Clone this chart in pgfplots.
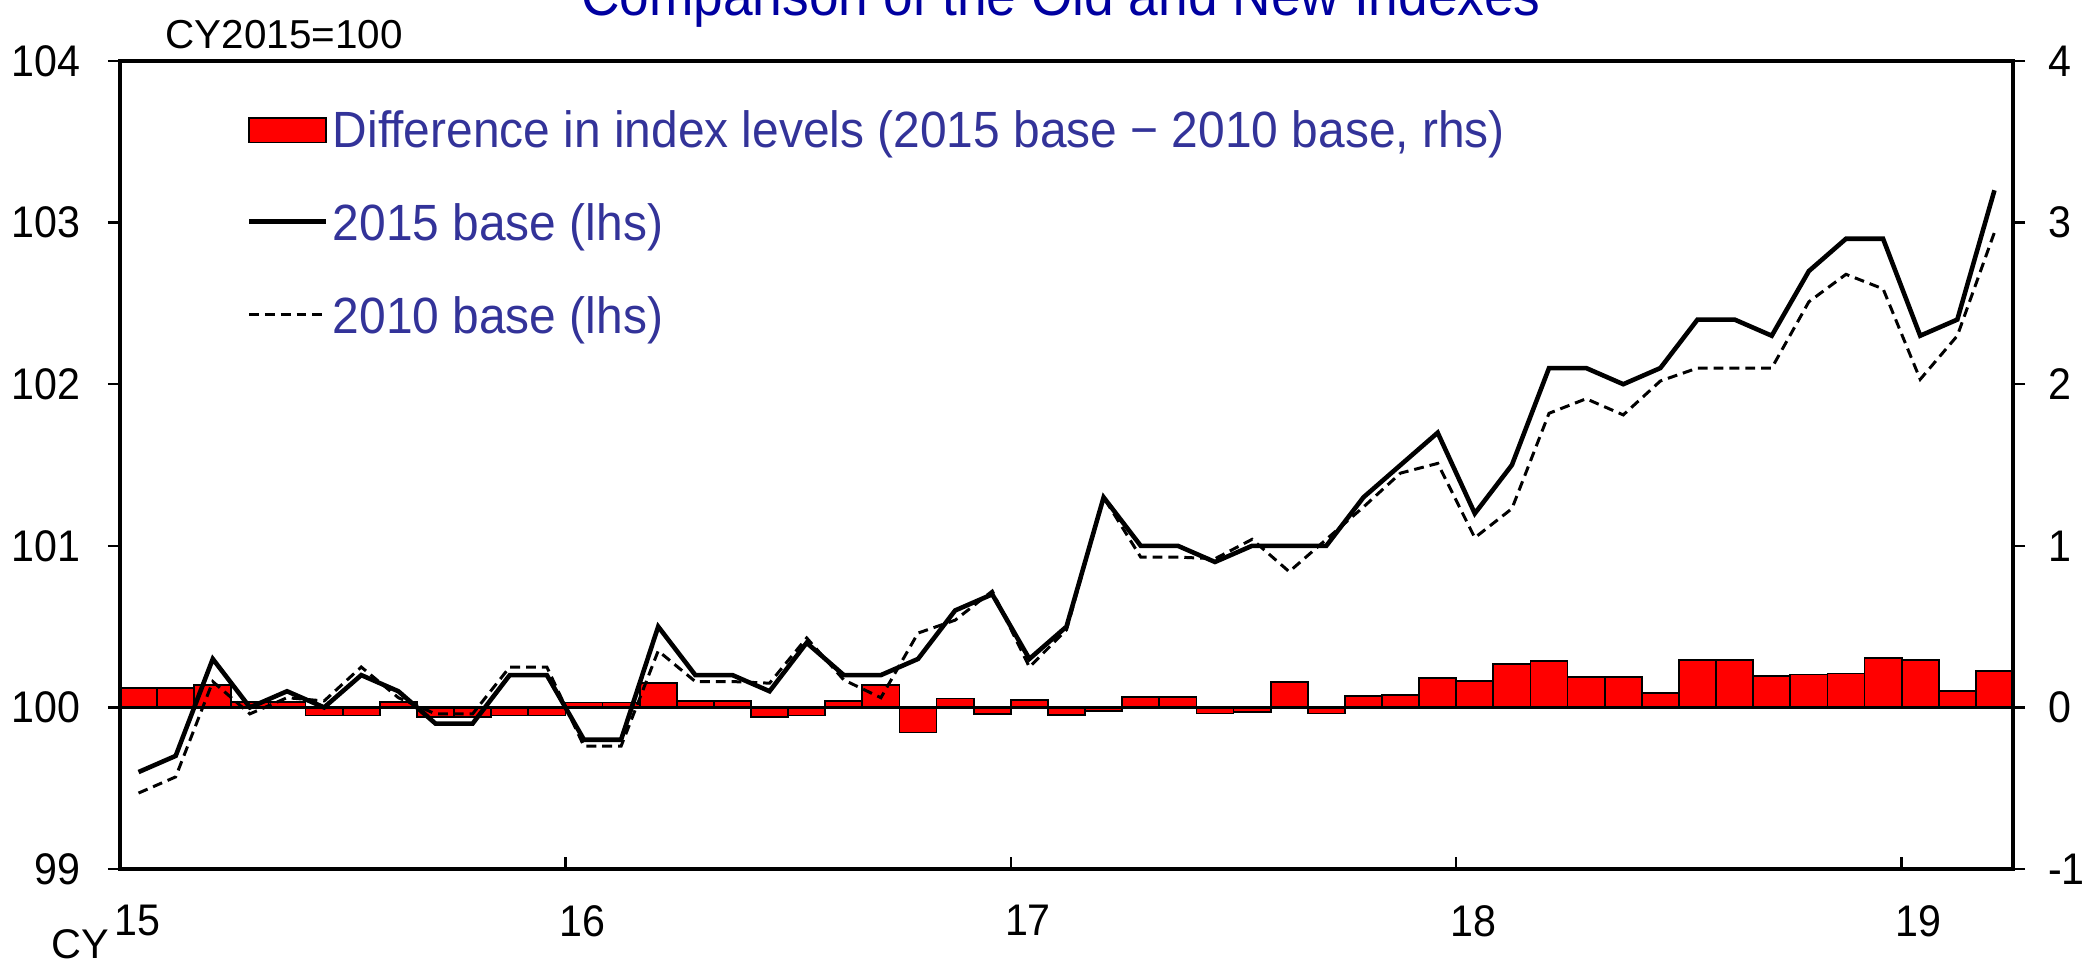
\documentclass[border=0pt]{standalone}
\usepackage{fontspec}
\setmainfont{Liberation Sans}
\newfontfamily\tickfont[FakeStretch=0.93]{Liberation Sans}
\newfontfamily\legfont[FakeStretch=0.94]{Liberation Sans}
\newfontfamily\titlefont[FakeStretch=0.93]{Liberation Sans}
\usepackage{pgfplots}
\usepackage{pgfplotstable}
\pgfplotsset{compat=1.18}

\definecolor{barred}{HTML}{FF0000}
\definecolor{legblue}{HTML}{333399}
\definecolor{titleblue}{HTML}{0000A0}

% month centre (0.5 = Jan 2015), 2015 base, 2010 base, difference (rhs)
\pgfplotstableread{
m     new     old     diff
0.5   99.6    99.47   0.12
1.5   99.7    99.57   0.12
2.5   100.3   100.16  0.14
3.5   100.0   99.96   0.035
4.5   100.1   100.06  0.035
5.5   100.0   100.04  -0.05
6.5   100.2   100.25  -0.05
7.5   100.1   100.06  0.035
8.5   99.9    99.96   -0.06
9.5   99.9    99.96   -0.06
10.5  100.2   100.25  -0.05
11.5  100.2   100.25  -0.05
12.5  99.8    99.76   0.03
13.5  99.8    99.76   0.03
14.5  100.5   100.35  0.15
15.5  100.2   100.16  0.04
16.5  100.2   100.16  0.04
17.5  100.1   100.15  -0.06
18.5  100.4   100.43  -0.05
19.5  100.2   100.17  0.04
20.5  100.2   100.06  0.14
21.5  100.3   100.46  -0.155
22.5  100.6   100.54  0.055
23.5  100.7   100.72  -0.04
24.5  100.3   100.25  0.045
25.5  100.5   100.48  -0.047
26.5  101.3   101.30  -0.02
27.5  101.0   100.93  0.064
28.5  101.0   100.93  0.064
29.5  100.9   100.92  -0.037
30.5  101.0   101.04  -0.03
31.5  101.0   100.84  0.159
32.5  101.0   101.04  -0.037
33.5  101.3   101.24  0.07
34.5  101.5   101.45  0.076
35.5  101.7   101.51  0.18
36.5  101.2   101.05  0.165
37.5  101.5   101.23  0.27
38.5  102.1   101.82  0.287
39.5  102.1   101.91  0.19
40.5  102.0   101.81  0.186
41.5  102.1   102.02  0.09
42.5  102.4   102.10  0.295
43.5  102.4   102.10  0.295
44.5  102.3   102.10  0.194
45.5  102.7   102.51  0.204
46.5  102.9   102.68  0.21
47.5  102.9   102.59  0.307
48.5  102.3   102.03  0.295
49.5  102.4   102.30  0.10
50.5  103.2   102.94  0.223
}\idx

\pgfplotsset{
  base/.style={
    width=18.93cm, height=8.08cm, scale only axis,
    at={(0,0)}, anchor=south west,
    xmin=0, xmax=51,
    axis line style={line width=0.9pt},
    every tick/.style={black, line width=0.7pt},
    major tick length=0.12cm,
    tick label style={font=\tickfont\fontsize{12.6}{15}\selectfont},
    /pgf/number format/assume math mode=true,
  },
  lineleg/.style={legend image code/.code={\draw[##1] (0cm,0.19cm) -- (0.77cm,0.19cm);}},
  barleg/.style={legend image code/.code={\draw[fill=barred, draw=black, line width=0.45pt] (0cm,0.05cm) rectangle (0.77cm,0.294cm);}},
}

\begin{document}
\begin{tikzpicture}
% bars, right axis
\begin{axis}[base,
  ymin=-1, ymax=4, ytick={-1,0,...,4},
  axis y line*=right, axis x line=none, tick align=outside,
  yticklabel style={anchor=west, inner sep=0pt, xshift=0.225cm},
  ybar, bar width=1,
]
\addplot[fill=barred, draw=black, line width=0.5pt] table[x=m, y=diff] {\idx};
\draw[line width=0.9pt] (axis cs:0,0) -- (axis cs:51,0);
\end{axis}

% x ticks pointing inwards
\begin{axis}[base,
  ymin=0, ymax=1,
  axis y line=none, axis x line*=bottom, tick align=inside,
  xtick={0,12,24,36,48}, xticklabels={15,16,17,18,19},
  xticklabel style={anchor=north west, inner sep=0pt, yshift=-0.355cm, xshift=-0.065cm},
]
\end{axis}

% index lines, left axis
\begin{axis}[base,
  ymin=99, ymax=104, ytick={99,...,104},
  ytick pos=left, xtick=\empty, tick align=outside,
  yticklabel style={anchor=east, inner sep=0pt, xshift=-0.27cm},
  legend style={at={(0.0666,0.9397)}, anchor=north west, draw=none, fill=none,
    inner sep=0pt, row sep=0.452cm, column sep=0.045cm,
    font=\legfont\fontsize{14.5}{17}\selectfont, text=legblue,
    cells={anchor=base west},
    nodes={inner sep=0pt, text height=0.37cm, text depth=0.11cm}},
]
\addlegendimage{barleg}
\addlegendentry{Difference in index levels (2015 base − 2010 base, rhs)}
\addplot[black, line width=1.3pt, lineleg] table[x=m, y=new] {\idx};
\addlegendentry{2015 base (lhs)}
\addplot[black, line width=0.85pt, dash pattern=on 2.8pt off 1.7pt, lineleg] table[x=m, y=old] {\idx};
\addlegendentry{2010 base (lhs)}
\end{axis}

\node[anchor=base west, inner sep=0pt, font=\fontsize{11.5}{13}\selectfont] at (0.45,8.21) {CY2015=100};
\node[anchor=base west, inner sep=0pt, font=\fontsize{11.8}{13}\selectfont] at (-0.69,-0.895) {CY};
\node[anchor=base, inner sep=0pt, text=titleblue, font=\titlefont\fontsize{16.3}{19}\selectfont] at (9.41,8.54) {Comparison of the Old and New Indexes};

\pgfresetboundingbox
\useasboundingbox (-1.20,-0.94) rectangle (19.67,8.69);
\end{tikzpicture}
\end{document}
